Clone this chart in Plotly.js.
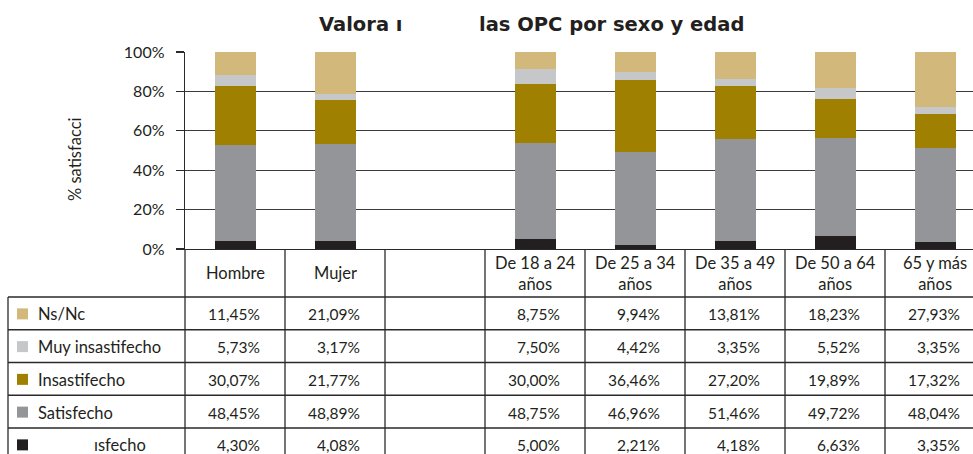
<!DOCTYPE html>
<html>
<head>
<meta charset="utf-8">
<script src="https://cdn.plot.ly/plotly-3.0.1.min.js"></script>
<style>html,body{margin:0;padding:0;background:#fff;}#chart{width:973px;height:454px;}</style>
</head>
<body>
<div id="chart"></div>
<script>
// ---- data ----
var categories = ["Hombre", "Mujer", "", "De 18 a 24<br>años", "De 25 a 34<br>años", "De 35 a 49<br>años", "De 50 a 64<br>años", "65 y más<br>años"];
var seriesNames = ["Ns/Nc", "Muy insastifecho", "Insastifecho", "Satisfecho", "Muy satisfecho"];
var rowLabels = ["Ns/Nc", "Muy insastifecho", "Insastifecho", "Satisfecho", "ısfecho"];
var nsnc            = [11.45, 21.09, null, 8.75, 9.94, 13.81, 18.23, 27.93];
var muyInsatisfecho = [5.73, 3.17, null, 7.50, 4.42, 3.35, 5.52, 3.35];
var insatisfecho    = [30.07, 21.77, null, 30.00, 36.46, 27.20, 19.89, 17.32];
var satisfecho      = [48.45, 48.89, null, 48.75, 46.96, 51.46, 49.72, 48.04];
var muySatisfecho   = [4.30, 4.08, null, 5.00, 2.21, 4.18, 6.63, 3.35];
var yTickVals = [0, 20, 40, 60, 80, 100];
var yTickText = ["0%", "20%", "40%", "60%", "80%", "100%"];
var titleLeft = "Valora ı";
var titleRight = "las OPC por sexo y edad";
var yTitle = "% satisfacci";

// ---- styling ----
var colors = ["#D2B97B", "#C6C7C9", "#A08000", "#939598", "#231F20"];
var FONT = "Lato, 'DejaVu Sans', sans-serif";
var TFONT = "'DejaVu Sans', 'Open Sans', sans-serif";
var TXT = "#231F20";
var W = 973, H = 454, L = 185, T = 52, B = 249;
var xr = [-0.5, -0.5 + (W - L) / 100];
function xp(v) { return (v - xr[0]) / (xr[1] - xr[0]); }
function pxX(px) { return (px - L) / (W - L); }
function pxY(py) { return (B - py) / (B - T); }

var rowsData = [nsnc, muyInsatisfecho, insatisfecho, satisfecho, muySatisfecho];
var xs = categories.map(function (c, i) { return i; });

// stack from bottom: muy satisfecho first
var traces = [];
for (var k = rowsData.length - 1; k >= 0; k--) {
  traces.push({
    type: "bar", x: xs, y: rowsData[k], name: seriesNames[k],
    width: 0.41, marker: { color: colors[k], line: { width: 0 } },
    hoverinfo: "name+y", showlegend: false
  });
}

var shapes = [], annotations = [];
var lineStyle = { color: "#2a2a2a", width: 1.3 };
var headerTop = B, headerBot = 297, rowH = 32.75, tableBottom = 470;
// vertical column lines
for (var i = 0; i <= categories.length; i++) {
  var xv = xp(i - 0.5);
  if (xv > 1.001) continue;
  shapes.push({ type: "line", xref: "paper", yref: "paper", x0: xv, x1: xv, y0: pxY(headerTop), y1: pxY(tableBottom), line: lineStyle });
}
// left border of legend column
shapes.push({ type: "line", xref: "paper", yref: "paper", x0: pxX(8), x1: pxX(8), y0: pxY(headerBot), y1: pxY(tableBottom), line: lineStyle });
// horizontal row lines
for (var r = 0; r < rowLabels.length; r++) {
  var yy = headerBot + r * rowH;
  shapes.push({ type: "line", xref: "paper", yref: "paper", x0: pxX(8), x1: 1, y0: pxY(yy), y1: pxY(yy), line: lineStyle });
}
// header labels
categories.forEach(function (c, i) {
  if (!c) return;
  annotations.push({ xref: "paper", yref: "paper", x: xp(i), y: pxY(273), text: c, showarrow: false,
    xanchor: "center", yanchor: "middle", align: "center", font: { family: FONT, size: 16.5, color: TXT } });
});
// rows
rowsData.forEach(function (arr, r) {
  var yc = headerBot + r * rowH + rowH / 2 + 1;
  shapes.push({ type: "rect", xref: "paper", yref: "paper", x0: pxX(17), x1: pxX(28), y0: pxY(yc - 6), y1: pxY(yc + 5), fillcolor: colors[r], line: { width: 0 } });
  var lx = (r === rowLabels.length - 1) ? 92 : 36;
  annotations.push({ xref: "paper", yref: "paper", x: pxX(lx), y: pxY(yc), text: rowLabels[r], showarrow: false,
    xanchor: "left", yanchor: "middle", font: { family: FONT, size: 16.5, color: TXT } });
  arr.forEach(function (v, i) {
    if (v === null) return;
    annotations.push({ xref: "paper", yref: "paper", x: xp(i + 0.27), y: pxY(yc), text: v.toFixed(2).replace(".", ",") + "%",
      showarrow: false, xanchor: "right", yanchor: "middle", font: { family: FONT, size: 15.5, color: TXT } });
  });
});
// title
annotations.push({ xref: "paper", yref: "paper", x: pxX(317), y: pxY(25), text: "<b>" + titleLeft + "</b>", showarrow: false, xanchor: "left", yanchor: "middle", font: { family: TFONT, size: 19.5, color: TXT } });
annotations.push({ xref: "paper", yref: "paper", x: pxX(477), y: pxY(25), text: "<b>" + titleRight + "</b>", showarrow: false, xanchor: "left", yanchor: "middle", font: { family: TFONT, size: 19.5, color: TXT } });
// y title
annotations.push({ xref: "paper", yref: "paper", x: pxX(75), y: pxY(159), text: yTitle, textangle: -90, showarrow: false, xanchor: "center", yanchor: "middle", font: { family: FONT, size: 16.5, color: TXT } });

var layout = {
  width: W, height: H,
  margin: { l: L, r: 0, t: T, b: H - B, pad: 0 },
  paper_bgcolor: "#fff", plot_bgcolor: "#fff",
  barmode: "stack", barnorm: "percent", showlegend: false,
  xaxis: { range: xr, showticklabels: false, ticks: "", showgrid: false, zeroline: false,
    showline: true, linecolor: "#2a2a2a", linewidth: 1.3, fixedrange: true },
  yaxis: { range: [0, 100], tickvals: yTickVals, ticktext: yTickText, ticks: "outside", ticklen: 8,
    tickcolor: "#2a2a2a", tickwidth: 1.3, ticklabelstandoff: 8,
    showgrid: true, gridcolor: "#3a3a3a", gridwidth: 1.3, zeroline: false,
    showline: true, linecolor: "#2a2a2a", linewidth: 1.3,
    tickfont: { family: FONT, size: 16, color: TXT }, fixedrange: true },
  shapes: shapes, annotations: annotations
};
Plotly.newPlot("chart", traces, layout, { displayModeBar: false, staticPlot: true });
</script>
</body>
</html>
